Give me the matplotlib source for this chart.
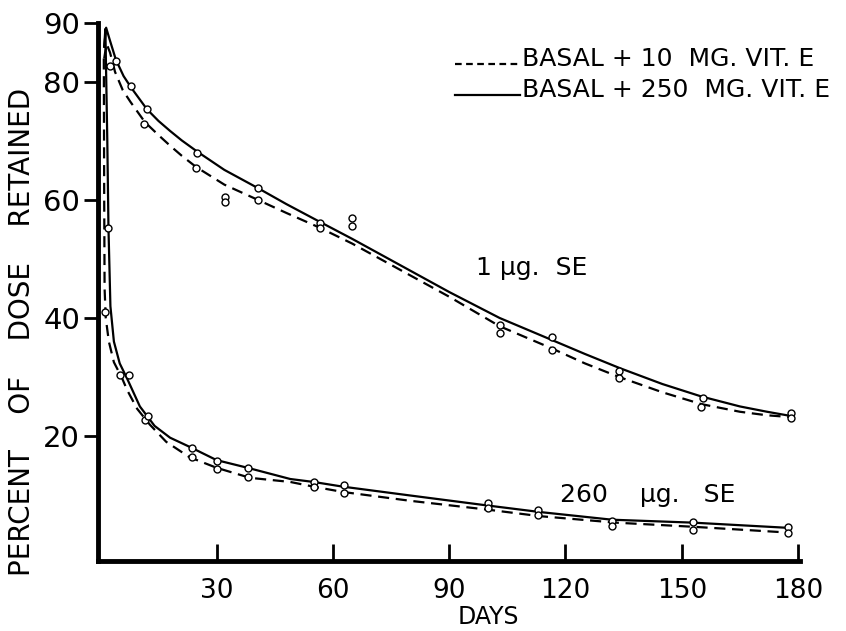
import matplotlib
matplotlib.use("Agg")
import matplotlib.pyplot as plt
from matplotlib.lines import Line2D

# ---------------- data ----------------
# fitted curves, 1 ug SE
hi_250_days = [1.0, 1.5, 2.5, 4.0, 6.0, 8.0, 12.0, 15.0, 18.0, 21.0, 25.0, 32.0, 40.7, 48.0,
               56.6, 65.0, 80.0, 90.0, 103.0, 116.0, 125.0, 134.0, 145.0, 155.0, 165.0, 172.0, 178.0]
hi_250_vals = [86.0, 89.2, 87.0, 83.8, 81.0, 79.0, 75.4, 73.4, 71.7, 70.1, 68.2, 65.1, 62.0, 59.3,
               56.3, 53.4, 48.0, 44.4, 40.0, 36.4, 33.9, 31.5, 28.8, 26.7, 25.0, 24.1, 23.4]
hi_10_days = [1.0, 1.6, 2.5, 3.8, 5.8, 7.8, 11.5, 15.0, 18.0, 21.0, 24.7, 32.0, 40.7, 48.0,
              56.6, 65.0, 80.0, 90.0, 103.0, 116.6, 125.0, 133.8, 145.0, 155.0, 165.0, 172.0, 178.0]
hi_10_vals = [84.0, 86.5, 85.0, 81.7, 78.6, 76.6, 73.2, 71.0, 69.2, 67.5, 65.6, 62.6, 60.0, 57.8,
              55.3, 52.6, 47.2, 43.6, 38.6, 34.8, 32.3, 30.0, 27.4, 25.4, 24.1, 23.5, 23.2]
# fitted curves, 260 ug SE
lo_250_days = [1.0, 1.3, 1.8, 2.1, 2.6, 3.5, 5.0, 7.0, 10.2, 14.0, 18.0, 23.2, 30.0,
               38.0, 49.0, 55.0, 62.6, 80.0, 100.0, 113.4, 132.0, 153.0, 178.0]
lo_250_vals = [86.0, 89.0, 70.0, 55.3, 42.0, 36.0, 32.3, 29.6, 25.0, 21.7, 19.7, 18.1, 15.9,
               14.6, 12.7, 12.2, 11.4, 9.9, 8.2, 7.1, 5.8, 5.3, 4.4]
lo_10_days = [0.9, 1.0, 1.1, 1.4, 2.2, 3.5, 5.6, 6.9, 9.5, 12.8, 17.0, 23.0, 30.0,
              38.6, 49.0, 55.0, 62.6, 80.0, 100.0, 113.4, 133.0, 153.0, 178.0]
lo_10_vals = [84.0, 60.0, 45.0, 40.0, 36.0, 32.5, 29.8, 27.8, 24.6, 21.9, 19.0, 16.4, 14.6,
              12.9, 12.2, 11.4, 10.5, 9.0, 7.5, 6.4, 5.3, 4.6, 3.6]

# observed points
hi_pts_days = [2.5, 4.0, 7.8, 12.0, 11.3, 24.9, 24.7, 32.1, 32.1, 40.7, 40.7,
               56.6, 56.6, 64.9, 64.9, 103.0, 103.0, 116.6, 116.6, 133.8, 133.8,
               155.5, 155.0, 178.2, 178.2]
hi_pts_vals = [82.7, 83.6, 79.3, 75.4, 72.8, 68.0, 65.4, 60.5, 59.7, 62.0, 60.0,
               56.1, 55.3, 57.0, 55.6, 38.8, 37.5, 36.8, 34.6, 31.0, 29.8,
               26.4, 24.9, 23.9, 23.0]
lo_pts_days = [2.0, 1.2, 5.0, 7.4, 11.5, 12.3, 23.7, 23.7, 30.0, 30.0, 38.1, 38.1,
               55.0, 55.0, 62.8, 62.8, 100.0, 100.0, 113.0, 113.0, 132.0, 132.0,
               153.0, 153.0, 177.5, 177.5]
lo_pts_vals = [55.3, 41.0, 30.3, 30.3, 22.7, 23.3, 18.0, 16.5, 15.8, 14.4, 14.6, 13.1,
               12.2, 11.4, 11.7, 10.3, 8.6, 7.8, 7.5, 6.6, 5.6, 4.7,
               5.4, 4.1, 4.6, 3.6]

x_ticks = [30, 60, 90, 120, 150, 180]
y_ticks = [20, 40, 60, 80, 90]
legend_labels = ["BASAL + 10  MG. VIT. E", "BASAL + 250  MG. VIT. E"]
curve_labels = ["1 \u03bcg.  SE", "260    \u03bcg.   SE"]

# ---------------- figure ----------------
plt.rcParams['font.family'] = ['DejaVu Sans']
fig = plt.figure(figsize=(8.46, 6.31), dpi=100)
ax = fig.add_axes([98 / 846, 1 - 561 / 631, 702 / 846, 538 / 631])
ax.set_xlim(-0.6, 180.5)
ax.set_ylim(-1.2, 90)

dash = (0, (5, 3))
lw = 1.6
ax.plot(hi_250_days, hi_250_vals, color='black', lw=lw)
ax.plot(hi_10_days, hi_10_vals, color='black', lw=lw, linestyle=dash)
ax.plot(lo_250_days, lo_250_vals, color='black', lw=lw)
ax.plot(lo_10_days, lo_10_vals, color='black', lw=lw, linestyle=dash)

for d, v in [(hi_pts_days, hi_pts_vals), (lo_pts_days, lo_pts_vals)]:
    ax.plot(d, v, linestyle='none', marker='o', markersize=5,
            markerfacecolor='white', markeredgecolor='black', markeredgewidth=1.0)

for s in ['top', 'right']:
    ax.spines[s].set_visible(False)
for s in ['left', 'bottom']:
    ax.spines[s].set_linewidth(3.5)

ax.set_xticks(x_ticks)
ax.set_yticks(y_ticks)
ax.tick_params(axis='x', direction='in', length=12, width=2, labelsize=19, pad=12)
ax.tick_params(axis='y', direction='out', length=10, width=2, labelsize=21, pad=3)

ax.text(97, 48.5, curve_labels[0], fontsize=18, ha='left', va='center')
ax.text(118.5, 10, curve_labels[1], fontsize=18, ha='left', va='center')

# legend drawn by hand
fig.add_artist(Line2D([455 / 846, 520 / 846], [1 - 64 / 631, 1 - 64 / 631],
                      color='black', lw=lw, linestyle=(0, (3, 2))))
fig.add_artist(Line2D([455 / 846, 520 / 846], [1 - 95 / 631, 1 - 95 / 631],
                      color='black', lw=lw))
fig.text(522 / 846, 1 - 66 / 631, legend_labels[0], fontsize=18, ha='left', va='baseline')
fig.text(522 / 846, 1 - 97 / 631, legend_labels[1], fontsize=18, ha='left', va='baseline')

fig.text(488 / 846, 1 - 617 / 631, "DAYS", fontsize=17, ha='center', va='center')
fig.text(22 / 846, 1 - 332 / 631, "PERCENT    OF    DOSE    RETAINED", fontsize=20,
         rotation=90, ha='center', va='center')

fig.savefig("out.png", dpi=100)
